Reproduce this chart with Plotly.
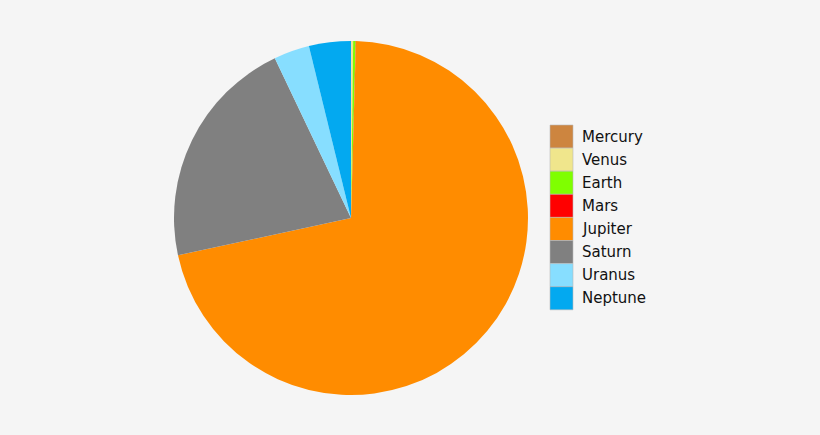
import plotly.graph_objects as go

planets = ["Mercury", "Venus", "Earth", "Mars", "Jupiter", "Saturn", "Uranus", "Neptune"]
mass = [0.330, 4.87, 5.97, 0.642, 1898, 568, 86.8, 102]  # 10^24 kg
colors = ["#CD853F", "#F0E68C", "#7FFF00", "#FF0000", "#FF8C00", "#808080", "#87DEFF", "#03A9F0"]

W, H = 820, 435

fig = go.Figure(go.Pie(
    labels=planets,
    values=mass,
    sort=False,
    direction="clockwise",
    rotation=0,
    marker=dict(colors=colors, line=dict(width=0)),
    textinfo="none",
    showlegend=False,
    domain=dict(x=[174 / W, 528 / W], y=[(H - 395) / H, (H - 41) / H]),
))

# legend drawn as a patch column like the original
x0, x1 = 550, 573
top, step = 125, 23.1
for i, (name, c) in enumerate(zip(planets, colors)):
    y0 = top + i * step
    fig.add_shape(type="rect", xref="paper", yref="paper",
                  x0=x0 / W, x1=x1 / W, y0=1 - (y0 + step) / H, y1=1 - y0 / H,
                  fillcolor=c, line=dict(width=0.6, color="#bbbbbb"))
    fig.add_annotation(text=name, xref="paper", yref="paper",
                       x=(x1 + 7) / W, y=1 - (y0 + step / 2) / H,
                       xanchor="left", yanchor="middle", showarrow=False,
                       font=dict(family="DejaVu Sans", size=15, color="#111111"))

fig.update_layout(
    width=W, height=H,
    margin=dict(l=0, r=0, t=0, b=0),
    paper_bgcolor="#F5F5F5",
    plot_bgcolor="#F5F5F5",
)

# drop the page's default body margin so the figure fills the window
fig.write_html("out.html", config={"displayModeBar": False},
               post_script="document.body.style.margin='0';document.body.style.background='#F5F5F5';")
